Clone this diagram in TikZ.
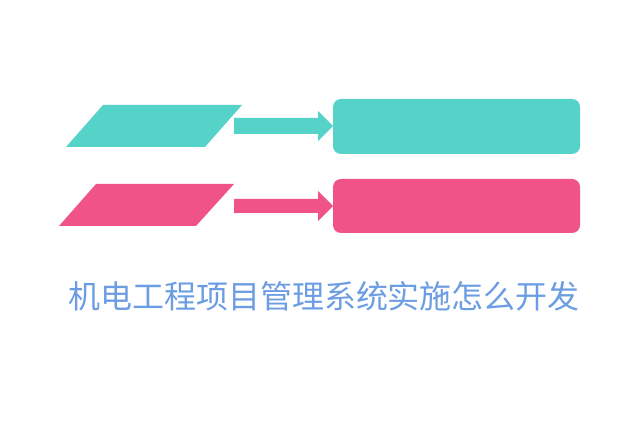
\documentclass[tikz,border=0pt]{standalone}
\usepackage{fontspec}
\newfontfamily\cjk{Noto Sans CJK SC}
\definecolor{teal}{HTML}{56D3C9}
\definecolor{rose}{HTML}{EF5388}
\definecolor{title}{HTML}{6C9DE2}
\begin{document}
\begin{tikzpicture}[x=1pt,y=-1pt]
	\tikzset{box/.style={rounded corners=8pt}}
	\useasboundingbox (0,0) rectangle (640,427);
	% upper row
	\fill [teal] (103,105) -- (242,105) -- (205,147) -- (66,147) -- cycle;
	\fill [teal] (234,118) -- (318,118) -- (318,111) -- (333,126) -- (318,141) -- (318,134) -- (234,134) -- cycle;
	\fill [teal,box] (333,99) rectangle (580,154);
	% lower row
	\fill [rose] (96,184) -- (234,184) -- (196,226) -- (59,226) -- cycle;
	\fill [rose] (234,199) -- (318,199) -- (318,191) -- (333,206) -- (318,221) -- (318,213) -- (234,213) -- cycle;
	\fill [rose,box] (333,179) rectangle (580,233);
	% title
	\node (title) [text=title] at (324,296) {\cjk\fontsize{32}{32}\selectfont 机电工程项目管理系统实施怎么开发};
\end{tikzpicture}
\end{document}
